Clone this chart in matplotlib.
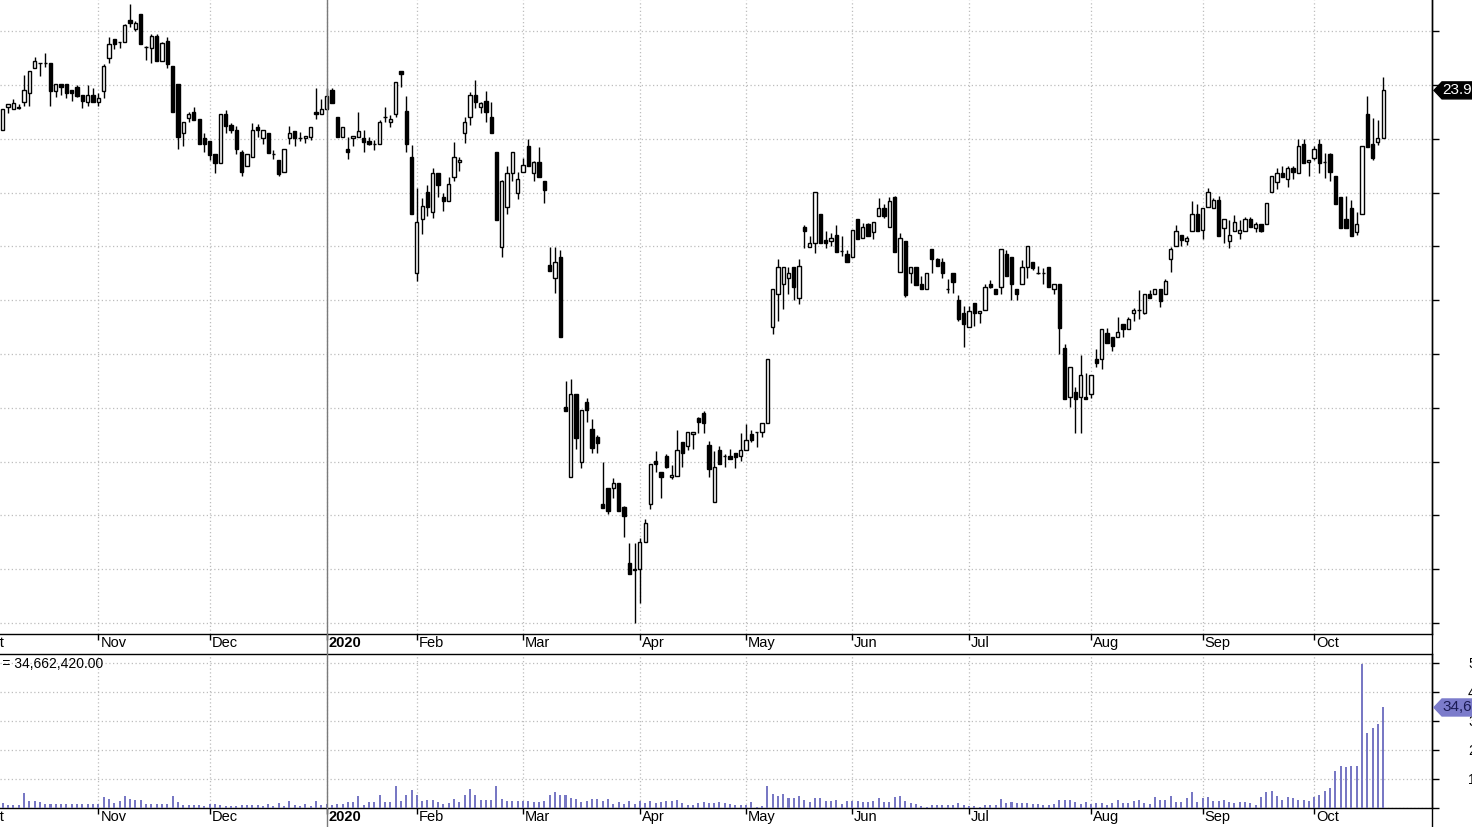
import numpy as np
import matplotlib.pyplot as plt
from matplotlib.patches import Polygon
from matplotlib.lines import Line2D
from matplotlib.transforms import IdentityTransform

plt.rcParams['font.family'] = ['Liberation Sans', 'DejaVu Sans']

# daily OHLC, one entry per trading day (late Oct 2019 .. mid Oct 2020)
opens = [
    23.16, 23.59, 23.55, 23.58, 23.68, 23.85, 24.32, 24.41, 24.41, 24.41,
    23.89, 24.02, 24.02, 23.91, 23.96, 23.81, 23.68, 23.81, 23.68, 23.89,
    24.50, 24.86, 24.80, 24.80, 25.21, 25.04, 25.32, 24.71, 24.69, 24.91,
    24.45, 24.82, 24.35, 24.02, 23.11, 23.39, 23.50, 23.37, 23.01, 22.96,
    22.72, 22.55, 23.46, 23.26, 23.16, 22.75, 22.49, 22.66, 23.22, 23.01,
    23.11, 22.72, 22.61, 22.38, 23.01, 23.14, 23.01, 23.01, 23.03, 23.50,
    23.46, 23.55, 23.91, 23.41, 23.03, 22.81, 23.01, 23.03, 23.01, 22.96,
    22.90, 22.90, 23.41, 23.31, 23.46, 24.26, 23.52, 22.66, 20.51, 21.51,
    22.01, 21.64, 22.36, 21.92, 21.84, 22.29, 22.57, 23.11, 23.41, 23.81,
    23.59, 23.70, 23.41, 22.75, 20.99, 21.73, 22.36, 21.99, 22.38, 22.87,
    22.36, 22.57, 22.22, 20.65, 20.41, 20.80, 18.01, 16.71, 18.26, 16.99,
    18.11, 17.61, 17.46, 16.21, 16.51, 16.51, 16.60, 16.15, 15.11, 14.99,
    15.00, 15.50, 16.21, 17.01, 16.81, 17.10, 16.71, 16.73, 17.36, 17.29,
    17.51, 17.81, 17.90, 17.31, 16.25, 17.21, 17.10, 17.10, 17.16, 17.10,
    17.21, 17.51, 17.55, 17.55, 17.72, 19.50, 20.11, 20.30, 20.41, 20.62,
    20.04, 21.36, 20.99, 21.06, 21.60, 21.12, 21.10, 21.21, 20.91, 20.86,
    20.80, 21.51, 21.16, 21.42, 21.27, 21.57, 21.71, 21.36, 21.92, 20.52,
    21.10, 20.51, 20.62, 20.30, 20.21, 20.95, 20.77, 20.71, 20.21, 20.51,
    20.00, 19.76, 19.50, 19.95, 19.76, 19.82, 20.30, 20.21, 20.25, 20.86,
    20.80, 20.21, 20.30, 20.62, 20.71, 20.51, 20.51, 20.62, 20.21, 20.30,
    19.11, 18.20, 18.29, 18.20, 18.20, 18.26, 18.91, 18.91, 19.39, 19.32,
    19.32, 19.56, 19.46, 19.76, 19.82, 19.76, 20.11, 20.11, 20.21, 20.11,
    20.77, 21.01, 21.21, 21.10, 21.29, 21.60, 21.30, 21.73, 21.71, 21.86,
    21.34, 21.10, 21.29, 21.25, 21.29, 21.51, 21.34, 21.42, 21.42, 22.01,
    22.20, 22.36, 22.25, 22.46, 22.36, 22.90, 22.57, 22.64, 22.90, 22.57,
    22.72, 22.31, 21.92, 21.51, 21.71, 21.27, 21.60, 23.46, 22.90, 22.94,
    23.01,
]
highs = [
    23.55, 23.65, 23.74, 23.65, 24.19, 24.26, 24.52, 24.41, 24.59, 24.41,
    24.02, 24.02, 24.02, 23.91, 24.00, 23.81, 24.00, 23.94, 23.85, 24.39,
    24.89, 24.86, 24.80, 25.13, 25.51, 25.19, 25.32, 24.72, 24.95, 24.95,
    24.80, 24.89, 24.35, 24.02, 23.31, 23.50, 23.59, 23.37, 23.11, 22.96,
    22.72, 23.46, 23.54, 23.29, 23.24, 22.79, 22.72, 23.29, 23.27, 23.16,
    23.11, 22.79, 22.61, 22.81, 23.24, 23.14, 23.13, 23.05, 23.22, 23.94,
    23.74, 23.94, 23.94, 23.41, 23.22, 23.03, 23.05, 23.50, 23.16, 23.03,
    22.98, 23.35, 23.59, 23.44, 24.06, 24.26, 23.80, 22.88, 22.08, 21.90,
    22.14, 22.46, 22.36, 21.99, 22.29, 22.94, 22.66, 23.41, 23.87, 24.09,
    23.68, 23.89, 23.68, 22.75, 22.23, 22.49, 22.75, 22.38, 22.64, 23.00,
    22.59, 22.85, 22.22, 20.99, 20.99, 20.93, 18.50, 18.53, 18.26, 17.96,
    18.18, 17.79, 17.49, 16.99, 16.51, 16.69, 16.60, 16.17, 15.49, 15.49,
    15.58, 15.93, 16.95, 17.20, 16.81, 17.14, 16.94, 17.59, 17.36, 17.55,
    17.55, 17.83, 17.94, 17.38, 17.20, 17.29, 17.14, 17.23, 17.16, 17.53,
    17.70, 17.59, 17.55, 17.72, 18.91, 20.21, 20.77, 20.62, 20.62, 20.62,
    20.77, 21.40, 21.19, 22.01, 21.60, 21.29, 21.25, 21.40, 21.19, 20.93,
    21.30, 21.51, 21.43, 21.43, 21.45, 21.90, 21.79, 21.92, 21.94, 21.25,
    21.10, 20.62, 20.62, 20.45, 20.51, 20.95, 20.78, 20.78, 20.39, 20.51,
    20.10, 19.89, 19.89, 19.95, 19.80, 20.30, 20.38, 20.21, 20.95, 20.93,
    20.80, 20.21, 20.75, 21.01, 20.71, 20.63, 20.60, 20.62, 20.30, 20.30,
    19.19, 18.76, 18.39, 18.98, 18.65, 18.61, 19.09, 19.46, 19.48, 19.32,
    19.69, 19.56, 19.69, 19.85, 20.19, 20.11, 20.19, 20.21, 20.21, 20.39,
    20.99, 21.40, 21.21, 21.19, 21.84, 21.79, 21.71, 22.08, 21.90, 21.94,
    21.51, 21.49, 21.58, 21.49, 21.55, 21.55, 21.45, 21.42, 21.81, 22.31,
    22.46, 22.49, 22.49, 22.49, 23.00, 23.00, 22.61, 22.87, 23.00, 22.74,
    22.74, 22.31, 21.92, 21.94, 21.86, 21.64, 22.87, 23.80, 23.39, 23.35,
    24.15,
]
lows = [
    23.16, 23.48, 23.55, 23.55, 23.61, 23.61, 24.32, 24.17, 24.33, 23.61,
    23.78, 23.81, 23.76, 23.70, 23.78, 23.57, 23.61, 23.68, 23.61, 23.76,
    24.41, 24.67, 24.69, 24.80, 25.08, 25.00, 24.76, 24.46, 24.41, 24.45,
    24.45, 24.32, 23.50, 22.81, 22.87, 23.31, 23.35, 22.90, 22.75, 22.61,
    22.36, 22.55, 23.11, 23.11, 22.72, 22.31, 22.49, 22.66, 23.03, 22.90,
    22.74, 22.62, 22.31, 22.38, 22.90, 22.87, 22.96, 22.92, 22.98, 23.37,
    23.46, 23.54, 23.67, 23.03, 23.03, 22.62, 22.87, 23.03, 22.75, 22.88,
    22.79, 22.90, 23.31, 23.22, 23.41, 23.96, 22.75, 21.60, 20.36, 21.23,
    21.57, 21.53, 21.92, 21.66, 21.84, 22.22, 22.40, 22.92, 23.26, 23.57,
    23.48, 23.31, 23.11, 21.49, 20.80, 21.60, 22.22, 21.88, 22.38, 22.49,
    22.22, 22.29, 21.81, 20.54, 20.13, 19.32, 17.94, 16.71, 17.23, 16.88,
    17.74, 17.16, 17.16, 16.14, 16.02, 16.32, 16.08, 15.60, 14.91, 14.00,
    14.37, 15.50, 16.12, 16.81, 16.32, 16.88, 16.68, 16.73, 16.90, 17.21,
    17.23, 17.53, 17.53, 16.71, 16.25, 16.95, 16.90, 17.05, 16.88, 17.01,
    17.21, 17.36, 17.27, 17.46, 17.72, 19.37, 19.61, 19.84, 20.11, 20.00,
    19.93, 20.97, 20.99, 20.88, 21.06, 20.97, 21.01, 20.90, 20.82, 20.71,
    20.80, 21.14, 21.16, 21.19, 21.14, 21.57, 21.53, 21.36, 20.90, 20.52,
    20.06, 20.32, 20.28, 20.21, 20.21, 20.51, 20.63, 20.41, 20.13, 20.13,
    19.61, 19.13, 19.50, 19.52, 19.58, 19.82, 20.23, 20.11, 20.11, 20.45,
    20.00, 20.00, 20.30, 20.41, 20.56, 20.49, 20.30, 20.25, 20.11, 19.00,
    18.16, 18.01, 17.53, 17.53, 18.16, 18.18, 18.76, 18.72, 19.20, 19.06,
    19.32, 19.32, 19.46, 19.61, 19.65, 19.74, 20.04, 20.11, 19.87, 20.11,
    20.52, 21.01, 21.01, 21.03, 21.29, 21.29, 21.14, 21.73, 21.71, 21.19,
    21.06, 20.97, 21.29, 21.14, 21.29, 21.36, 21.27, 21.27, 21.42, 22.01,
    22.07, 22.29, 22.10, 22.25, 22.36, 22.55, 22.31, 22.61, 22.36, 22.27,
    22.22, 21.79, 21.34, 21.34, 21.19, 21.21, 21.60, 22.85, 22.61, 22.88,
    23.01,
]
closes = [
    23.55, 23.65, 23.67, 23.60, 23.91, 24.26, 24.45, 24.41, 24.41, 23.89,
    24.02, 23.96, 23.85, 23.85, 23.80, 23.70, 23.81, 23.68, 23.76, 24.35,
    24.76, 24.76, 24.80, 25.12, 25.15, 25.15, 24.76, 24.71, 24.91, 24.45,
    24.78, 24.39, 23.50, 23.03, 23.31, 23.46, 23.35, 22.90, 22.90, 22.70,
    22.55, 23.46, 23.24, 23.16, 22.81, 22.38, 22.72, 23.16, 23.16, 23.16,
    22.74, 22.72, 22.35, 22.81, 23.11, 23.01, 23.01, 23.05, 23.22, 23.46,
    23.55, 23.80, 23.67, 23.03, 23.22, 22.75, 23.05, 23.14, 22.94, 22.90,
    22.90, 23.31, 23.41, 23.37, 24.06, 24.20, 22.90, 21.60, 21.45, 21.75,
    21.73, 22.36, 22.14, 21.84, 22.16, 22.66, 22.61, 23.31, 23.81, 23.68,
    23.67, 23.50, 23.11, 21.49, 22.22, 22.36, 22.75, 22.25, 22.51, 22.49,
    22.57, 22.29, 22.05, 20.54, 20.71, 19.32, 17.94, 18.26, 17.44, 17.96,
    17.96, 17.25, 17.35, 16.14, 16.08, 16.60, 16.08, 15.99, 14.91, 15.00,
    15.50, 15.86, 16.95, 16.95, 16.71, 16.90, 16.75, 17.21, 17.16, 17.55,
    17.55, 17.74, 17.72, 16.86, 16.90, 16.95, 17.10, 17.05, 17.08, 17.21,
    17.40, 17.40, 17.55, 17.72, 18.91, 20.21, 20.62, 20.62, 20.51, 20.25,
    20.63, 21.29, 21.06, 22.01, 21.06, 21.06, 21.16, 20.90, 20.91, 20.71,
    21.30, 21.14, 21.36, 21.19, 21.45, 21.71, 21.57, 21.84, 20.90, 21.16,
    20.10, 20.62, 20.28, 20.21, 20.51, 20.77, 20.63, 20.51, 20.21, 20.34,
    19.65, 19.56, 19.80, 19.76, 19.80, 20.25, 20.25, 20.11, 20.95, 20.45,
    20.30, 20.11, 20.62, 21.01, 20.60, 20.51, 20.51, 20.25, 20.30, 19.48,
    18.16, 18.76, 18.16, 18.61, 18.16, 18.61, 18.83, 19.46, 19.20, 19.15,
    19.41, 19.46, 19.65, 19.82, 19.82, 20.11, 20.04, 20.21, 19.98, 20.36,
    20.95, 21.29, 21.12, 21.16, 21.60, 21.29, 21.71, 22.01, 21.86, 21.19,
    21.51, 21.21, 21.45, 21.30, 21.51, 21.36, 21.42, 21.29, 21.81, 22.31,
    22.36, 22.29, 22.46, 22.38, 22.87, 22.55, 22.61, 22.81, 22.55, 22.57,
    22.38, 21.79, 21.34, 21.34, 21.19, 21.42, 22.87, 22.85, 22.64, 23.01,
    23.90,
]
# volume in millions of shares
volume_m = [
    1.7, 0.9, 0.9, 0.9, 5.2, 2.4, 2.4, 2.1, 1.3, 1.5,
    1.3, 1.3, 1.3, 1.3, 1.5, 1.3, 1.5, 1.3, 1.3, 3.8,
    3.2, 1.7, 2.4, 4.0, 3.2, 2.6, 2.9, 1.5, 1.5, 1.5,
    1.3, 1.3, 4.0, 2.1, 0.9, 0.9, 0.9, 0.9, 0.7, 1.3,
    1.3, 0.9, 0.7, 0.7, 0.7, 0.9, 0.9, 0.9, 0.9, 0.7,
    1.3, 0.7, 1.7, 0.7, 2.3, 0.9, 0.7, 1.3, 0.7, 2.3,
    0.9, 1.5, 0.9, 1.3, 1.5, 2.1, 2.1, 4.0, 1.2, 2.0,
    2.1, 4.6, 2.1, 2.1, 7.7, 2.3, 4.4, 6.3, 4.4, 2.5,
    2.6, 2.6, 2.0, 1.4, 1.7, 3.1, 2.0, 4.6, 6.7, 4.4,
    2.9, 2.9, 2.9, 7.7, 3.2, 2.5, 2.5, 2.5, 2.3, 2.3,
    2.1, 2.1, 2.3, 4.6, 5.5, 4.4, 4.4, 3.5, 3.0, 2.0,
    2.3, 3.0, 3.0, 2.5, 3.2, 1.3, 2.0, 1.5, 2.5, 1.5,
    2.3, 1.7, 2.3, 1.7, 2.0, 2.3, 2.3, 2.8, 1.7, 1.2,
    1.2, 1.7, 2.2, 1.7, 1.7, 2.0, 1.7, 1.5, 1.2, 0.9,
    1.2, 2.0, 0.5, 0.7, 7.5, 4.9, 4.3, 4.9, 3.5, 3.5,
    4.3, 2.9, 2.1, 3.5, 3.5, 2.3, 2.3, 2.9, 1.4, 2.3,
    2.5, 2.3, 2.1, 2.1, 2.3, 3.5, 2.0, 2.1, 3.7, 4.0,
    2.3, 1.7, 1.4, 0.6, 0.3, 1.2, 0.9, 0.9, 1.2, 0.9,
    1.7, 1.2, 0.8, 0.6, 0.3, 0.9, 0.9, 1.2, 3.1, 1.7,
    2.0, 1.7, 1.7, 1.7, 1.4, 1.4, 1.2, 1.2, 1.4, 2.9,
    2.9, 2.9, 2.0, 1.4, 2.1, 1.4, 1.7, 1.7, 0.9, 1.7,
    2.9, 1.7, 1.7, 2.5, 2.9, 1.7, 1.4, 3.7, 2.9, 2.9,
    4.0, 2.0, 2.0, 3.5, 5.4, 2.1, 3.5, 3.7, 2.5, 2.3,
    2.9, 2.1, 1.7, 2.0, 2.1, 1.7, 1.2, 3.7, 5.4, 6.0,
    4.0, 2.9, 3.8, 3.6, 2.9, 2.9, 2.5, 3.7, 4.6, 5.8,
    6.9, 12.7, 14.6, 14.0, 14.6, 14.6, 49.8, 25.9, 27.6, 29.1,
    34.66242,
]

# first trading day of each month (bar index)
month_pos = [18, 39, 61, 78, 98, 120, 140, 160, 182, 205, 226, 247]
month_labels = ['Nov', 'Dec', '2020', 'Feb', 'Mar', 'Apr', 'May', 'Jun',
                'Jul', 'Aug', 'Sep', 'Oct']
prev_month_pos = -4.4   # October 2019, mostly off the left edge
year_pos = 61

price_ticks = np.arange(14, 26)
vol_ticks = np.arange(0, 51, 10) * 1e6
vol_tick_labels = ['', '10,000,000', '20,000,000', '30,000,000',
                   '40,000,000', '50,000,000']

o = np.array(opens)
h = np.array(highs)
l = np.array(lows)
c = np.array(closes)
vol = np.array(volume_m) * 1e6
x = np.arange(len(o))

W, H = 1472, 827
fig = plt.figure(figsize=(W / 100, H / 100), dpi=100)
ax = fig.add_axes([0, 1 - 634 / H, 1432 / W, 634 / H])
axv = fig.add_axes([0, 1 - 808 / H, 1432 / W, 154 / H], sharex=ax)

grid_kw = dict(color='#bdbdbd', linestyle=(0, (1, 2)), linewidth=0.9)

# candles
up = c >= o
body_lo = np.minimum(o, c)
body_h = np.maximum(np.abs(c - o), 0.004)
ax.vlines(x, l, h, color='black', linewidth=1, zorder=3)
ax.bar(x, body_h, bottom=body_lo, width=0.62,
       color=np.where(up, 'white', 'black'), edgecolor='black',
       linewidth=1, zorder=4)

# volume
axv.bar(x, vol, width=0.38, color='#7878c4', linewidth=0, zorder=3)

ax.set_xlim(-0.51, 269.2)
ax.set_ylim(13.796, 25.58)
axv.set_ylim(0, 53.1e6)

for a in (ax, axv):
    a.set_xticks(month_pos)
    a.grid(True, **grid_kw)
    a.set_axisbelow(True)
    a.yaxis.tick_right()
    a.tick_params(axis='x', direction='out', length=4, width=1,
                  labelbottom=False, color='black')
    a.tick_params(axis='y', direction='out', length=5, width=1,
                  color='black')
    a.spines['left'].set_visible(False)
    for s in a.spines.values():
        s.set_linewidth(1)
        s.set_color('black')

ax.spines['top'].set_visible(False)
ax.set_yticks(price_ticks)
ax.tick_params(axis='y', labelright=False)

axv.set_yticks(vol_ticks)
axv.set_yticklabels(vol_tick_labels)
axv.tick_params(axis='y', labelright=True, labelsize=10, pad=21)

# month labels under both panels
for a in (ax, axv):
    for pos, lab in zip([prev_month_pos] + month_pos, ['Oct'] + month_labels):
        a.annotate(lab, xy=(pos, 0), xycoords=('data', 'axes fraction'),
                   xytext=(2, -2), textcoords='offset pixels',
                   ha='left', va='top', fontsize=10.5,
                   fontweight='bold' if lab == '2020' else 'normal',
                   annotation_clip=False)

# year separator and right-hand axis line across both panels
xy = ax.transData.transform((year_pos, 0))[0] / W
fig.add_artist(Line2D([xy, xy], [0, 1], transform=fig.transFigure,
                      color='#7a7a7a', linewidth=1, zorder=5))
xr = ax.get_position().x1
fig.add_artist(Line2D([xr, xr], [0, 1], transform=fig.transFigure,
                      color='black', linewidth=1, zorder=5))

# last-value tags on the right axis
def value_tag(axis, value, text, fc, tc):
    yd = axis.transData.transform((0, value))[1]
    x0 = axis.bbox.x1 + 2
    pts = [(x0, yd), (x0 + 8, yd + 8.5), (W + 5, yd + 8.5),
           (W + 5, yd - 8.5), (x0 + 8, yd - 8.5)]
    fig.add_artist(Polygon(pts, closed=True, facecolor=fc, edgecolor=fc,
                           transform=IdentityTransform(), zorder=6))
    fig.text((x0 + 8) / W, yd / H, text, color=tc, fontsize=11,
             ha='left', va='center', zorder=7)

value_tag(ax, c[-1], f'{c[-1]:.1f}', 'black', 'white')
value_tag(axv, vol[-1], f'{vol[-1]:,.0f}', '#7b7bcb', '#1b1b55')

fig.text(103 / W, 1 - 664 / H, f'Volume = {vol[-1]:,.2f}', ha='right',
         va='center', fontsize=10)

fig.savefig('out.png', dpi=100)
